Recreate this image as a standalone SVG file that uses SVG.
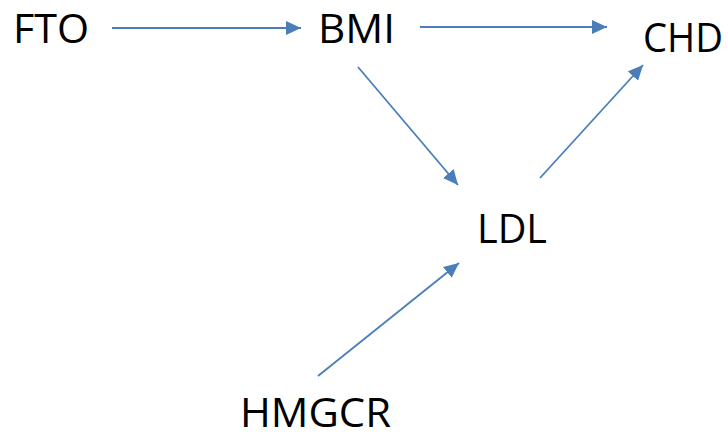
<svg xmlns="http://www.w3.org/2000/svg" width="728" height="432" viewBox="0 0 728 432">
<style>
.lbl{font-family:"Open Sans","Liberation Sans",sans-serif;font-size:40px;fill:#000}
.edge{stroke:#4a7ebb;stroke-width:1.8;fill:none;marker-end:url(#ah)}
</style>
<defs>
<marker id="ah" markerUnits="userSpaceOnUse" markerWidth="16" markerHeight="14" refX="15" refY="7" orient="auto">
<path d="M0,0 L15,7 L0,14 Z" fill="#4a7ebb"/>
</marker>
</defs>
<rect width="728" height="432" fill="#fff"/>
<g id="edges">
<line class="edge" x1="112" y1="28" x2="301" y2="28"/>
<line class="edge" x1="420" y1="27" x2="607" y2="27"/>
<line class="edge" x1="358" y1="67" x2="458" y2="185"/>
<line class="edge" x1="540" y1="178" x2="643" y2="65"/>
<line class="edge" x1="318" y1="376" x2="459" y2="263"/>
</g>
<g id="FTO"><text class="lbl" x="13" y="43" textLength="76" lengthAdjust="spacingAndGlyphs">FTO</text></g>
<g id="BMI"><text class="lbl" x="318" y="43" textLength="77" lengthAdjust="spacingAndGlyphs">BMI</text></g>
<g id="CHD"><text class="lbl" x="643" y="52" textLength="80" lengthAdjust="spacingAndGlyphs">CHD</text></g>
<g id="LDL"><text class="lbl" x="477" y="243" textLength="70" lengthAdjust="spacingAndGlyphs">LDL</text></g>
<g id="HMGCR"><text class="lbl" x="240" y="427" textLength="151" lengthAdjust="spacingAndGlyphs">HMGCR</text></g>
</svg>
